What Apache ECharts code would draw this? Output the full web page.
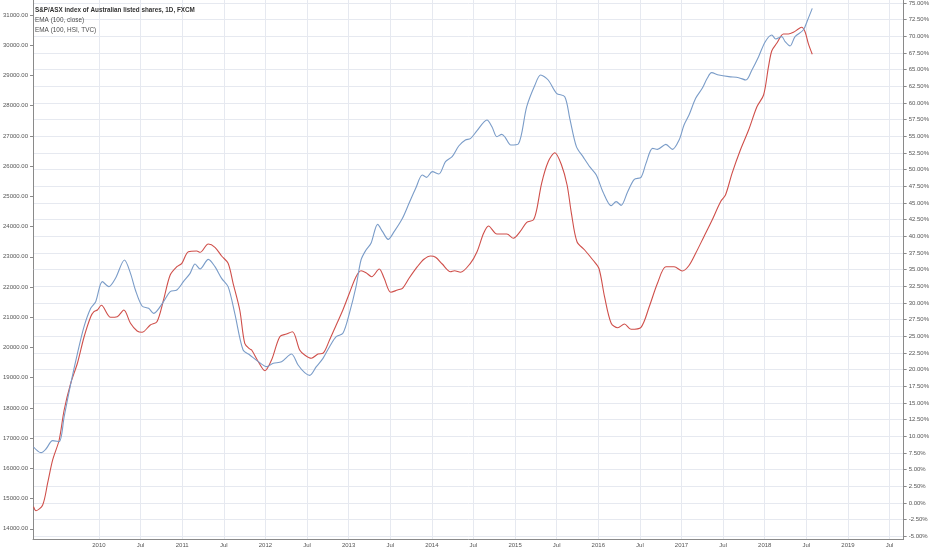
<!DOCTYPE html>
<html>
<head>
<meta charset="utf-8">
<script src="https://cdn.jsdelivr.net/npm/echarts@6/dist/echarts.min.js"></script>
<style>
html,body{margin:0;padding:0;background:#fff;}
#chart{width:932px;height:550px;}
</style>
</head>
<body>
<div id="chart"></div>
<script>
// Decimal-year x positions
const hsiEma = [
  [2009.214,14731],[2009.244,14599],[2009.324,14788],[2009.384,15516],[2009.444,16277],[2009.522,16938],
  [2009.582,17931],[2009.662,18825],[2009.742,19486],[2009.821,20347],[2009.901,21018],[2009.940,21184],
  [2009.981,21240],[2010.029,21396],[2010.140,20999],[2010.220,21018],[2010.299,21240],[2010.379,20800],
  [2010.459,20545],[2010.518,20502],[2010.617,20744],[2010.697,20853],[2010.776,21571],[2010.856,22398],
  [2010.936,22673],[2010.996,22785],[2011.075,23169],[2011.175,23192],[2011.215,23149],[2011.314,23424],
  [2011.394,23315],[2011.474,23027],[2011.552,22785],[2011.612,22124],[2011.692,21240],[2011.752,20138],
  [2011.812,19950],[2011.835,19916],[2011.915,19529],[2011.994,19232],[2012.074,19586],[2012.173,20357],
  [2012.253,20446],[2012.325,20522],[2012.412,19916],[2012.472,19751],[2012.552,19642],[2012.632,19784],
  [2012.692,19807],[2012.771,20247],[2012.851,20744],[2012.931,21240],[2013.009,21793],[2013.089,22342],
  [2013.149,22541],[2013.209,22474],[2013.277,22342],[2013.368,22597],[2013.427,22289],[2013.507,21826],
  [2013.587,21902],[2013.647,21958],[2013.726,22289],[2013.826,22673],[2013.905,22918],[2013.985,23027],
  [2014.045,22984],[2014.125,22762],[2014.224,22507],[2014.272,22541],[2014.343,22488],[2014.463,22785],
  [2014.543,23169],[2014.622,23778],[2014.681,24020],[2014.782,23755],[2014.901,23755],[2014.980,23613],
  [2015.060,23831],[2015.140,24142],[2015.219,24218],[2015.259,24549],[2015.319,25433],[2015.398,26147],
  [2015.478,26445],[2015.558,26038],[2015.625,25376],[2015.677,24440],[2015.744,23500],[2015.836,23225],
  [2015.935,22894],[2016.007,22620],[2016.075,21680],[2016.155,20800],[2016.234,20654],[2016.314,20777],
  [2016.394,20601],[2016.513,20668],[2016.612,21349],[2016.711,22124],[2016.812,22673],[2016.911,22673],
  [2017.010,22531],[2017.090,22713],[2017.170,23116],[2017.269,23666],[2017.368,24218],[2017.469,24824],
  [2017.528,25045],[2017.607,25763],[2017.707,26535],[2017.806,27196],[2017.906,27967],[2017.986,28354],
  [2018.045,29291],[2018.085,29820],[2018.144,30065],[2018.224,30373],[2018.284,30373],[2018.344,30429],
  [2018.404,30538],[2018.443,30595],[2018.484,30449],[2018.523,30065],[2018.571,29701]
];
const closeEmaPct = [
  [2009.214,8.4],[2009.304,7.55],[2009.363,8.1],[2009.444,9.35],[2009.522,9.2],[2009.582,12.95],
  [2009.662,17.96],[2009.742,22.46],[2009.821,26.45],[2009.901,29.2],[2009.961,30.2],[2010.041,33.2],
  [2010.119,32.45],[2010.199,33.7],[2010.307,36.45],[2010.379,34.45],[2010.438,31.95],[2010.518,29.55],
  [2010.597,29.2],[2010.657,28.45],[2010.776,30.2],[2010.856,31.7],[2010.936,31.95],[2011.015,33.2],
  [2011.095,34.45],[2011.155,35.85],[2011.215,35.1],[2011.314,36.55],[2011.394,35.45],[2011.474,33.7],
  [2011.552,32.45],[2011.632,28.45],[2011.732,22.95],[2011.812,22.2],[2011.915,21.2],[2012.015,20.45],
  [2012.095,20.95],[2012.194,21.2],[2012.313,22.35],[2012.393,20.7],[2012.472,19.55],[2012.532,19.15],
  [2012.612,20.45],[2012.692,21.7],[2012.771,23.45],[2012.851,24.95],[2012.931,25.45],[2013.009,28.45],
  [2013.089,32.45],[2013.149,36.45],[2013.209,37.95],[2013.269,38.95],[2013.349,41.8],[2013.408,40.7],
  [2013.475,39.55],[2013.547,40.7],[2013.647,42.7],[2013.726,44.95],[2013.806,47.2],[2013.886,49.2],
  [2013.937,48.85],[2014.005,49.7],[2014.084,49.35],[2014.164,51.2],[2014.244,51.95],[2014.323,53.55],
  [2014.403,54.45],[2014.463,54.65],[2014.543,55.85],[2014.662,57.45],[2014.722,56.45],[2014.782,54.95],
  [2014.841,55.3],[2014.881,54.85],[2014.949,53.7],[2015.039,53.85],[2015.140,59.45],[2015.239,62.7],
  [2015.307,64.2],[2015.398,63.45],[2015.498,61.45],[2015.597,60.95],[2015.657,57.7],[2015.737,53.45],
  [2015.816,51.95],[2015.896,50.45],[2015.976,49.2],[2016.055,46.7],[2016.155,44.6],[2016.215,45.2],
  [2016.274,44.65],[2016.353,46.7],[2016.433,48.55],[2016.513,48.85],[2016.573,50.95],[2016.652,53.2],
  [2016.711,53.05],[2016.812,53.8],[2016.891,53.05],[2016.971,54.45],[2017.030,56.7],[2017.090,58.2],
  [2017.170,60.7],[2017.249,62.2],[2017.309,63.7],[2017.361,64.55],[2017.448,64.2],[2017.568,63.95],
  [2017.687,63.8],[2017.774,63.45],[2017.846,64.95],[2017.926,66.95],[2018.006,69.2],[2018.085,70.2],
  [2018.132,69.6],[2018.204,69.95],[2018.245,69.2],[2018.304,68.55],[2018.364,69.95],[2018.463,70.95],
  [2018.515,72.45],[2018.571,74.2]
];
const xTickValues = [2010,2010.5,2011,2011.5,2012,2012.5,2013,2013.5,2014,2014.5,2015,2015.5,2016,2016.5,2017,2017.5,2018,2018.5,2019,2019.5];
const leftTickValues = [14000,15000,16000,17000,18000,19000,20000,21000,22000,23000,24000,25000,26000,27000,28000,29000,30000,31000];
const rightTickValues = [-5,-2.5,0,2.5,5,7.5,10,12.5,15,17.5,20,22.5,25,27.5,30,32.5,35,37.5,40,42.5,45,47.5,50,52.5,55,57.5,60,62.5,65,67.5,70,72.5,75];
const titleLines = ['S&P/ASX index of Australian listed shares, 1D, FXCM','EMA (100, close)','EMA (100, HSI, TVC)'];

const FONT = '"Liberation Sans", Arial, sans-serif';
const labelStyle = {color:'#555', fontSize:6, fontFamily:FONT};
const chart = echarts.init(document.getElementById('chart'), null, {renderer:'canvas'});
chart.setOption({
  animation:false,
  backgroundColor:'#fff',
  grid:{left:30, right:26, top:0, bottom:11, containLabel:false},
  xAxis:{
    type:'value', min:2009.208, max:2019.669,
    axisLine:{show:true, onZero:false, lineStyle:{color:'#8a8a8a', width:1}},
    axisTick:{show:false, customValues:xTickValues},
    axisLabel:Object.assign({customValues:xTickValues, margin:3, showMinLabel:true, showMaxLabel:true,
      formatter:v => (Math.abs(v - Math.round(v)) < 1e-6 ? String(Math.round(v)) : 'Jul')}, labelStyle),
    splitLine:{show:true, lineStyle:{color:'#e6e9f0', width:1}}
  },
  yAxis:[
    {type:'value', position:'left', min:13662, max:31498,
     axisLine:{show:true, onZero:false, lineStyle:{color:'#8a8a8a', width:1}},
     axisTick:{show:true, length:3, customValues:leftTickValues, lineStyle:{color:'#8a8a8a'}},
     axisLabel:Object.assign({customValues:leftTickValues, margin:5, formatter:v => v.toFixed(2)}, labelStyle),
     splitLine:{show:false}},
    {type:'value', position:'right', min:-5.4, max:75.45,
     axisLine:{show:true, onZero:false, lineStyle:{color:'#8a8a8a', width:1}},
     axisTick:{show:true, length:3, customValues:rightTickValues, lineStyle:{color:'#8a8a8a'}},
     axisLabel:Object.assign({customValues:rightTickValues, margin:5, formatter:v => v.toFixed(2) + '%'}, labelStyle),
     splitLine:{show:true, lineStyle:{color:'#e6e9f0', width:1}}}
  ],
  graphic:[
    {type:'text', x:35, y:9.5, z:100, scaleX:0.79, style:{text:titleLines[0], fill:'#333', font:'bold 8px "Liberation Sans"', textVerticalAlign:'middle'}},
    {type:'text', x:35, y:20, z:100, scaleX:0.8, style:{text:titleLines[1], fill:'#4d4d4d', font:'8px "Liberation Sans"', textVerticalAlign:'middle'}},
    {type:'text', x:35, y:30, z:100, scaleX:0.8, style:{text:titleLines[2], fill:'#4d4d4d', font:'8px "Liberation Sans"', textVerticalAlign:'middle'}}
  ],
  series:[
    {name:'EMA (100, HSI, TVC)', type:'line', yAxisIndex:0, data:hsiEma, showSymbol:false, smooth:0.3,
     lineStyle:{color:'#cf4f4a', width:1.1}, itemStyle:{color:'#cf4f4a'}},
    {name:'EMA (100, close)', type:'line', yAxisIndex:1, data:closeEmaPct, showSymbol:false, smooth:0.3,
     lineStyle:{color:'#7a9cc8', width:1.1}, itemStyle:{color:'#7a9cc8'}}
  ]
});
</script>
</body>
</html>
